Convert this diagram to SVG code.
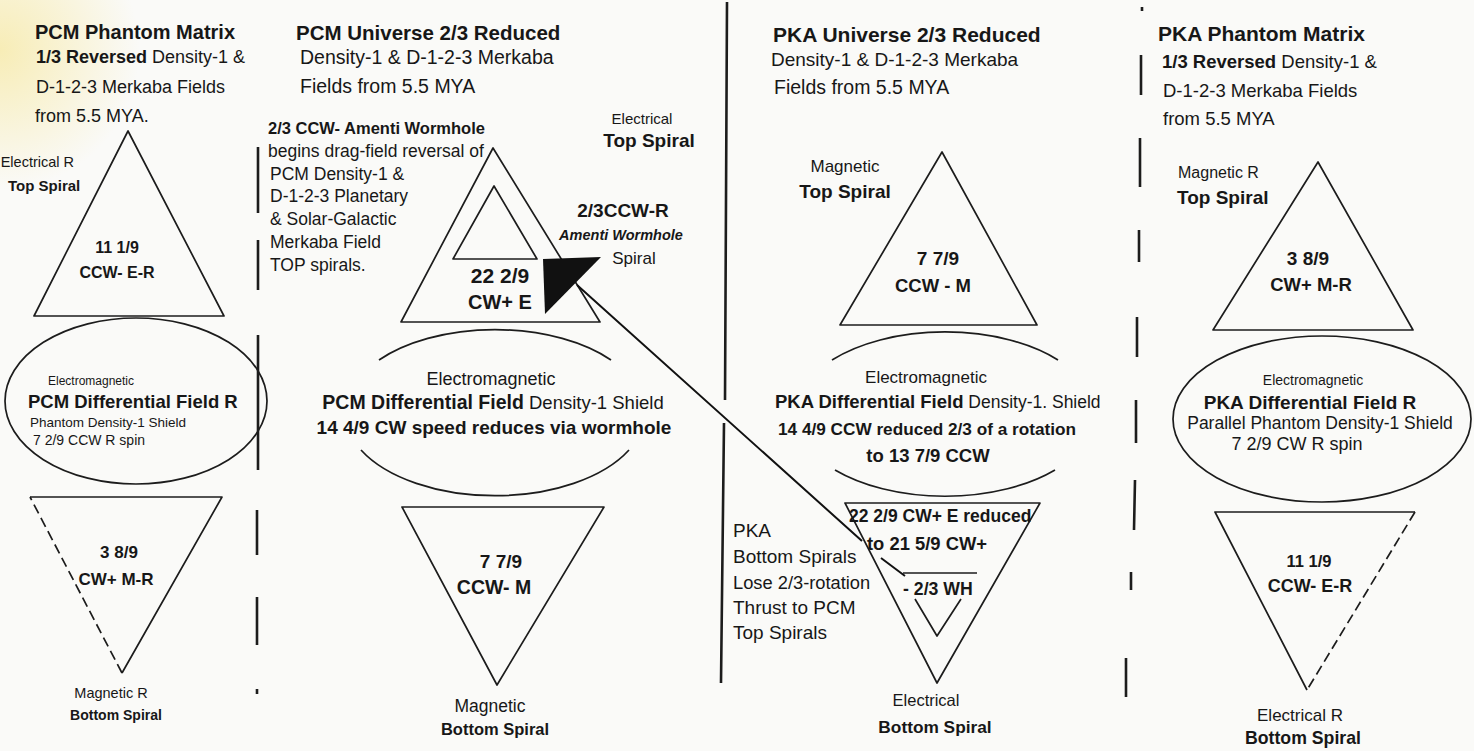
<svg xmlns="http://www.w3.org/2000/svg" width="1474" height="751" viewBox="0 0 1474 751">
<defs>
<radialGradient id="tint" cx="0" cy="50" r="140" gradientUnits="userSpaceOnUse">
<stop offset="0" stop-color="#f6e79a" stop-opacity="0.7"/>
<stop offset="1" stop-color="#f6e79a" stop-opacity="0"/>
</radialGradient>
<style>
text{font-family:"Liberation Sans",Arial,sans-serif;fill:#171717}
.b{font-weight:bold}
.bi{font-weight:bold;font-style:italic}
.m{text-anchor:middle}
.e{text-anchor:end}
.sh{fill:none;stroke:#1c1c1c;stroke-width:1.7;stroke-linejoin:round}
.dv{stroke:#1c1c1c;stroke-width:2.6;fill:none}
.ds{stroke-dasharray:10 5}
.con{stroke:#111;stroke-width:2;fill:none}
</style>
</defs>
<rect width="1474" height="751" fill="#fafaf8"/>
<rect width="200" height="200" fill="url(#tint)"/>

<g id="dividers">
<path class="dv" d="M258 147V213M258 240V290M258 335V470M257 510V555M257 597V645M257 689V694"/>
<path class="dv" d="M727 2L725 400M724 423L721 683"/>
<path class="dv" d="M1142 7V11M1141 55V95M1140 138V187M1139 230V262M1137 317V357M1136 400V443M1135 480L1134 530M1131 572V590M1126 658V697"/>
</g>

<g id="pcm-phantom-title">
<text class="b" x="35" y="39" font-size="20">PCM Phantom Matrix</text>
<text x="36" y="63" font-size="18"><tspan class="b">1/3 Reversed</tspan> Density-1 &amp;</text>
<text x="36" y="93" font-size="18">D-1-2-3 Merkaba Fields</text>
<text x="35" y="122" font-size="18">from 5.5 MYA.</text>
</g>

<g id="pcm-phantom-top">
<path class="sh" d="M128 131L34 316H224Z"/>
<text class="e" x="74" y="167" font-size="14.5">Electrical R</text>
<text class="b" x="8" y="191" font-size="15">Top Spiral</text>
<text class="b m" x="117" y="253" font-size="16">11 1/9</text>
<text class="b m" x="117" y="278" font-size="16">CCW- E-R</text>
</g>

<g id="pcm-phantom-field">
<ellipse class="sh" cx="136" cy="401" rx="131" ry="83"/>
<text x="48" y="385" font-size="12">Electromagnetic</text>
<text class="b" x="28" y="408" font-size="18.5">PCM Differential Field R</text>
<text x="30" y="427" font-size="13.5">Phantom Density-1 Shield</text>
<text x="33" y="445" font-size="14">7 2/9 CCW R spin</text>
</g>

<g id="pcm-phantom-bottom">
<path class="sh" d="M30 497H222L122 673"/>
<path class="sh ds" d="M122 673L30 497"/>
<text class="b m" x="119" y="558" font-size="17">3 8/9</text>
<text class="b m" x="116" y="585" font-size="17">CW+ M-R</text>
<text class="m" x="111" y="698" font-size="14.5">Magnetic R</text>
<text class="b m" x="116" y="720" font-size="14">Bottom Spiral</text>
</g>

<g id="pcm-universe-title">
<text class="b" x="296" y="40" font-size="20.5">PCM Universe 2/3 Reduced</text>
<text x="300" y="64" font-size="19.5">Density-1 &amp; D-1-2-3 Merkaba</text>
<text x="300" y="93" font-size="19.5">Fields from 5.5 MYA</text>
</g>

<g id="amenti-note">
<text class="b" x="268" y="134" font-size="16.5">2/3 CCW- Amenti Wormhole</text>
<text x="268" y="157" font-size="17.5">begins drag-field reversal of</text>
<text x="270" y="180" font-size="17.5">PCM Density-1 &amp;</text>
<text x="270" y="202" font-size="17.5">D-1-2-3 Planetary</text>
<text x="270" y="225" font-size="17.5">&amp; Solar-Galactic</text>
<text x="270" y="248" font-size="17.5">Merkaba Field</text>
<text x="270" y="271" font-size="17.5">TOP spirals.</text>
</g>

<g id="pcm-universe-top">
<path class="sh" d="M493 148L401 322H600Z"/>
<path class="sh" d="M494 186L453 259H537Z"/>
<text class="m" x="642" y="124" font-size="15">Electrical</text>
<text class="b m" x="649" y="147" font-size="19">Top Spiral</text>
<text class="b m" x="500" y="283" font-size="21">22 2/9</text>
<text class="b m" x="500" y="309" font-size="20">CW+ E</text>
</g>

<g id="amenti-spiral">
<path d="M543 259L601 257L545 314Z" fill="#111"/>
<text class="b m" x="623" y="217" font-size="19">2/3CCW-R</text>
<text class="bi m" x="621" y="240" font-size="14.5">Amenti Wormhole</text>
<text class="m" x="634" y="264" font-size="17">Spiral</text>
</g>

<g id="pcm-universe-field">
<path class="sh" d="M379 360A150 83 0 0 1 611 360"/>
<path class="sh" d="M361 450A150 83 0 0 0 629 450"/>
<text class="m" x="491" y="385" font-size="18">Electromagnetic</text>
<text class="m" x="493" y="409"><tspan class="b" font-size="19.5">PCM Differential Field</tspan><tspan font-size="18.5"> Density-1 Shield</tspan></text>
<text class="b m" x="494" y="434" font-size="19">14 4/9 CW speed reduces via wormhole</text>
</g>

<g id="pcm-universe-bottom">
<path class="sh" d="M402 507H604L497 685Z"/>
<text class="b m" x="501" y="568" font-size="19">7 7/9</text>
<text class="b m" x="494" y="594" font-size="19.5">CCW- M</text>
<text class="m" x="490" y="712" font-size="17.5">Magnetic</text>
<text class="b m" x="495" y="735" font-size="16.5">Bottom Spiral</text>
</g>

<g id="pka-universe-title">
<text class="b" x="773" y="42" font-size="21">PKA Universe 2/3 Reduced</text>
<text x="771" y="66" font-size="19">Density-1 &amp; D-1-2-3 Merkaba</text>
<text x="774" y="94" font-size="19.5">Fields from 5.5 MYA</text>
</g>

<g id="pka-universe-top">
<path class="sh" d="M942 152L840 325H1037Z"/>
<text class="m" x="845" y="172" font-size="17">Magnetic</text>
<text class="b m" x="845" y="198" font-size="19">Top Spiral</text>
<text class="b m" x="938" y="265" font-size="19">7 7/9</text>
<text class="b m" x="933" y="292" font-size="18.5">CCW - M</text>
</g>

<g id="pka-universe-field">
<path class="sh" d="M832 360A150 82 0 0 1 1058 360"/>
<path class="sh" d="M835 470A150 82 0 0 0 1055 470"/>
<text class="m" x="926" y="383" font-size="17">Electromagnetic</text>
<text x="775" y="408"><tspan class="b" font-size="18.5">PKA Differential Field</tspan><tspan font-size="17.5"> Density-1. Shield</tspan></text>
<text class="b" x="778" y="435" font-size="17.2">14 4/9 CCW reduced 2/3 of a rotation</text>
<text class="b m" x="928" y="462" font-size="18.5">to 13 7/9 CCW</text>
</g>

<g id="pka-universe-bottom">
<path class="sh" d="M845 503H1040L937 683Z"/>
<path class="sh" d="M903 573H977M915 599L937 636L961 599"/>
<text class="b" x="849" y="522" font-size="17.5">22 2/9 CW+ E reduced</text>
<text class="b" x="867" y="550" font-size="18.4">to 21 5/9 CW+</text>
<text class="b" x="903" y="595" font-size="17.7">- 2/3 WH</text>
<text class="m" x="926" y="706" font-size="16.5">Electrical</text>
<text class="b m" x="935" y="733" font-size="17.3">Bottom Spiral</text>
</g>

<g id="pka-thrust-note">
<text x="733" y="537" font-size="19">PKA</text>
<text x="733" y="563" font-size="19">Bottom Spirals</text>
<text x="733" y="589" font-size="18.3">Lose 2/3-rotation</text>
<text x="733" y="614" font-size="19">Thrust to PCM</text>
<text x="733" y="639" font-size="19">Top Spirals</text>
</g>

<g id="pka-phantom-title">
<text class="b" x="1158" y="41" font-size="21">PKA Phantom Matrix</text>
<text x="1162" y="68" font-size="18.5"><tspan class="b">1/3 Reversed</tspan> Density-1 &amp;</text>
<text x="1163" y="97" font-size="18.5">D-1-2-3 Merkaba Fields</text>
<text x="1163" y="125" font-size="18.5">from 5.5 MYA</text>
</g>

<g id="pka-phantom-top">
<path class="sh" d="M1318 162L1213 330H1413Z"/>
<text x="1178" y="178" font-size="16">Magnetic R</text>
<text class="b" x="1177" y="204" font-size="19">Top Spiral</text>
<text class="b m" x="1308" y="265" font-size="19">3 8/9</text>
<text class="b m" x="1311" y="291" font-size="18.5">CW+ M-R</text>
</g>

<g id="pka-phantom-field">
<ellipse class="sh" cx="1322" cy="419" rx="149" ry="83"/>
<text class="m" x="1313" y="385" font-size="14">Electromagnetic</text>
<text class="b m" x="1310" y="409" font-size="19">PKA Differential Field R</text>
<text class="m" x="1320" y="429" font-size="17.5">Parallel Phantom Density-1 Shield</text>
<text class="m" x="1297" y="450" font-size="18">7 2/9 CW R spin</text>
</g>

<g id="pka-phantom-bottom">
<path class="sh" d="M1307 690L1215 512H1415"/>
<path class="sh ds" d="M1415 512L1307 690"/>
<text class="b m" x="1309" y="567" font-size="16.5">11 1/9</text>
<text class="b m" x="1310" y="592" font-size="18">CCW- E-R</text>
<text class="m" x="1300" y="721" font-size="17">Electrical R</text>
<text class="b m" x="1303" y="744" font-size="17.7">Bottom Spiral</text>
</g>

<g id="connectors">
<path class="con" d="M577 285L862 541M881 558L905 576"/>
</g>
</svg>
